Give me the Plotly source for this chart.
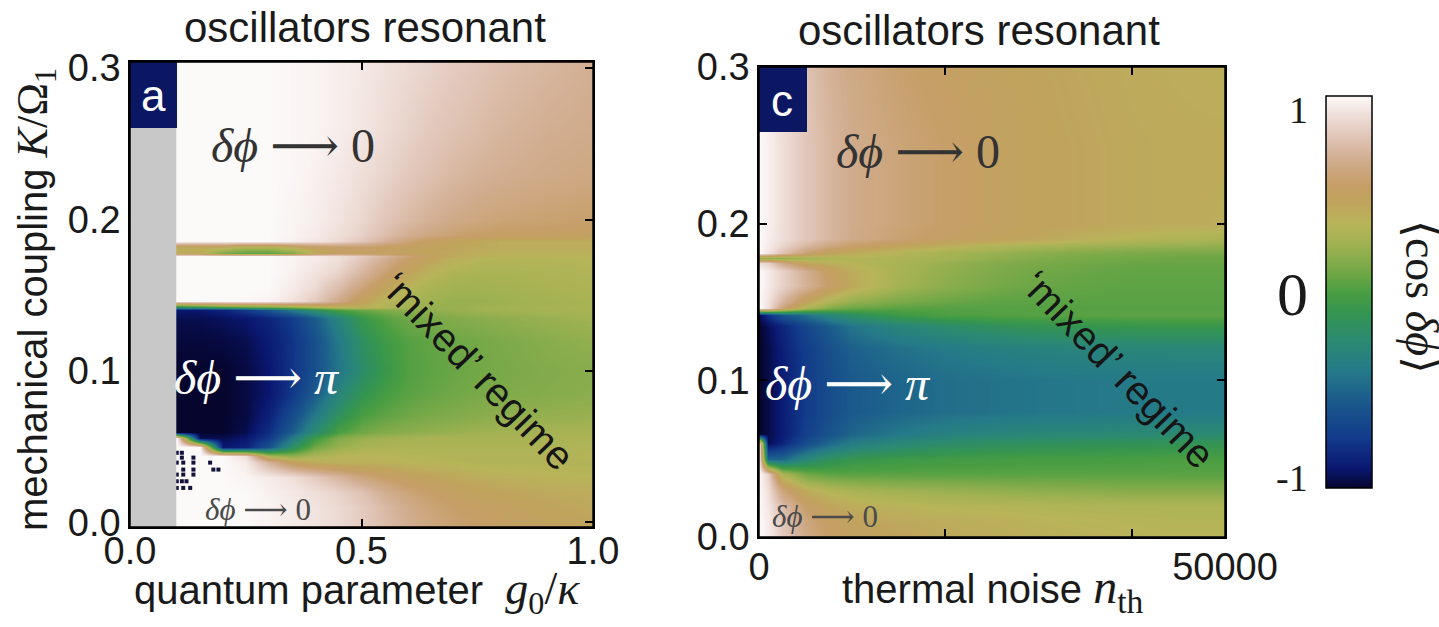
import plotly.graph_objects as go

W, H = 1439, 627

# ---------------- panel a : <cos dphi> vs g0/kappa and K/Omega1 ----------------
G_A = [0.10, 0.15, 0.20, 0.25, 0.30, 0.35, 0.40, 0.45, 0.50, 0.55, 0.60, 0.65, 0.70, 0.75, 0.80, 0.90, 1.00]
K_A = [0.000, 0.010, 0.020, 0.030, 0.040, 0.044, 0.050, 0.056, 0.060, 0.070, 0.085, 0.100,
       0.120, 0.135, 0.140, 0.142, 0.146, 0.155, 0.165, 0.174, 0.176, 0.178, 0.182, 0.186,
       0.190, 0.200, 0.230, 0.260, 0.300]
Z_A = [
    [1, 1, 1, 1, 0.98, 0.95, 0.92, 0.88, 0.82, 0.75, 0.68, 0.62, 0.58, 0.55, 0.52, 0.48, 0.45],
    [1, 1, 1, 1, 0.98, 0.95, 0.92, 0.88, 0.82, 0.74, 0.66, 0.60, 0.55, 0.52, 0.50, 0.45, 0.42],
    [1, 1, 1, 1, 0.97, 0.94, 0.90, 0.85, 0.78, 0.68, 0.60, 0.55, 0.50, 0.47, 0.45, 0.42, 0.40],
    [1, 1, 1, 0.98, 0.95, 0.90, 0.82, 0.72, 0.62, 0.55, 0.50, 0.46, 0.43, 0.40, 0.38, 0.36, 0.35],
    [1, 1, 1, 0.95, 0.70, 0.50, 0.40, 0.38, 0.37, 0.36, 0.35, 0.34, 0.33, 0.32, 0.32, 0.32, 0.32],
    [1, 1, 1, 0.90, 0.30, 0.20, 0.30, 0.35, 0.36, 0.35, 0.34, 0.33, 0.32, 0.32, 0.32, 0.32, 0.33],
    [1, 1, -0.90, -0.85, -0.60, -0.20, 0.10, 0.22, 0.28, 0.30, 0.30, 0.30, 0.30, 0.30, 0.30, 0.30, 0.32],
    [1, -0.95, -0.95, -0.90, -0.75, -0.40, -0.05, 0.15, 0.22, 0.25, 0.27, 0.28, 0.28, 0.28, 0.28, 0.28, 0.30],
    [-1, -1, -1, -0.95, -0.80, -0.55, -0.25, 0.00, 0.10, 0.15, 0.18, 0.20, 0.22, 0.24, 0.25, 0.27, 0.28],
    [-1, -1, -1, -0.97, -0.86, -0.65, -0.40, -0.15, 0.00, 0.06, 0.10, 0.13, 0.15, 0.17, 0.19, 0.21, 0.22],
    [-1, -1, -1, -0.97, -0.90, -0.76, -0.55, -0.30, -0.12, -0.02, 0.04, 0.07, 0.10, 0.12, 0.14, 0.16, 0.18],
    [-1, -1, -1, -0.97, -0.90, -0.78, -0.62, -0.42, -0.22, -0.08, 0.02, 0.05, 0.08, 0.10, 0.12, 0.15, 0.17],
    [-0.98, -0.98, -0.97, -0.95, -0.88, -0.78, -0.62, -0.40, -0.18, -0.05, 0.03, 0.06, 0.09, 0.11, 0.13, 0.17, 0.20],
    [-0.95, -0.95, -0.93, -0.90, -0.84, -0.74, -0.55, -0.30, -0.08, 0.03, 0.10, 0.13, 0.15, 0.17, 0.19, 0.22, 0.25],
    [-0.90, -0.90, -0.85, -0.75, -0.60, -0.40, -0.20, 0.00, 0.08, 0.14, 0.18, 0.20, 0.22, 0.24, 0.25, 0.27, 0.28],
    [-0.20, -0.10, 0.00, 0.05, 0.10, 0.20, 0.30, 0.35, 0.38, 0.32, 0.26, 0.22, 0.22, 0.24, 0.25, 0.27, 0.28],
    [1, 1, 1, 1, 0.98, 0.92, 0.82, 0.65, 0.48, 0.35, 0.28, 0.24, 0.22, 0.22, 0.23, 0.26, 0.28],
    [1, 1, 1, 1, 1, 0.95, 0.88, 0.75, 0.60, 0.45, 0.35, 0.28, 0.25, 0.25, 0.26, 0.28, 0.30],
    [1, 1, 1, 1, 1, 0.97, 0.92, 0.85, 0.72, 0.58, 0.45, 0.36, 0.30, 0.28, 0.28, 0.30, 0.32],
    [1, 1, 1, 1, 1, 0.98, 0.95, 0.90, 0.80, 0.68, 0.55, 0.45, 0.38, 0.34, 0.33, 0.33, 0.34],
    [1, 1, 1, 1, 1, 0.98, 0.95, 0.90, 0.82, 0.72, 0.60, 0.50, 0.42, 0.38, 0.36, 0.36, 0.36],
    [0.40, 0.40, 0.15, 0.05, 0.05, 0.15, 0.40, 0.50, 0.50, 0.50, 0.48, 0.45, 0.42, 0.40, 0.38, 0.37, 0.37],
    [0.40, 0.40, 0.40, 0.30, 0.30, 0.40, 0.50, 0.55, 0.55, 0.52, 0.50, 0.47, 0.45, 0.42, 0.40, 0.40, 0.40],
    [1, 1, 1, 1, 1, 0.97, 0.93, 0.88, 0.80, 0.70, 0.60, 0.52, 0.46, 0.42, 0.40, 0.40, 0.40],
    [1, 1, 1, 1, 1, 0.98, 0.95, 0.90, 0.84, 0.76, 0.68, 0.62, 0.58, 0.55, 0.53, 0.52, 0.50],
    [1, 1, 1, 1, 1, 0.98, 0.96, 0.92, 0.87, 0.80, 0.74, 0.69, 0.65, 0.62, 0.60, 0.58, 0.56],
    [1, 1, 1, 1, 1, 0.99, 0.97, 0.94, 0.90, 0.86, 0.81, 0.77, 0.73, 0.70, 0.68, 0.65, 0.63],
    [1, 1, 1, 1, 1, 0.99, 0.98, 0.96, 0.93, 0.89, 0.85, 0.81, 0.78, 0.75, 0.72, 0.68, 0.66],
    [1, 1, 1, 1, 1, 0.99, 0.98, 0.96, 0.94, 0.91, 0.88, 0.85, 0.82, 0.79, 0.76, 0.72, 0.68],
]
# isolated dark cells in the lower-left corner of panel a
DOTS_A_G = [0.101, 0.112, 0.112, 0.137, 0.101, 0.115, 0.137, 0.173, 0.115, 0.137, 0.180,
            0.191, 0.101, 0.115, 0.137, 0.101, 0.112, 0.122, 0.101, 0.115, 0.130]
DOTS_A_K = [0.046, 0.046, 0.0428, 0.0428, 0.0395, 0.0395, 0.0395, 0.0395, 0.0349, 0.0349, 0.0349,
            0.0349, 0.0316, 0.0316, 0.0316, 0.0272, 0.0272, 0.0272, 0.0228, 0.0228, 0.0228]

# ---------------- panel c : <cos dphi> vs n_th and K/Omega1 ----------------
N_C = [0, 1000, 2500, 5000, 7500, 10000, 15000, 20000, 25000, 30000, 35000, 40000, 45000, 50000]
K_C = [0.000, 0.010, 0.020, 0.030, 0.040, 0.050, 0.060, 0.066, 0.080, 0.100, 0.120, 0.135,
       0.142, 0.146, 0.150, 0.160, 0.170, 0.175, 0.178, 0.181, 0.186, 0.190, 0.200, 0.250, 0.300]
Z_C = [
    [1, 0.95, 0.82, 0.65, 0.55, 0.50, 0.45, 0.42, 0.40, 0.38, 0.37, 0.36, 0.35, 0.35],
    [1, 0.95, 0.80, 0.62, 0.52, 0.47, 0.42, 0.40, 0.38, 0.36, 0.35, 0.34, 0.33, 0.33],
    [1, 0.93, 0.75, 0.55, 0.45, 0.40, 0.36, 0.34, 0.33, 0.32, 0.31, 0.30, 0.30, 0.30],
    [1, 0.90, 0.60, 0.40, 0.32, 0.28, 0.24, 0.22, 0.20, 0.18, 0.17, 0.16, 0.16, 0.16],
    [1, 0.85, 0.30, 0.10, 0.05, 0.04, 0.04, 0.04, 0.04, 0.04, 0.04, 0.04, 0.04, 0.04],
    [1, -0.50, -0.50, -0.28, -0.16, -0.10, -0.06, -0.04, -0.03, -0.02, -0.02, -0.01, 0.00, 0.00],
    [1, -0.95, -0.85, -0.65, -0.50, -0.38, -0.28, -0.22, -0.18, -0.16, -0.15, -0.14, -0.13, -0.12],
    [-1, -0.96, -0.88, -0.72, -0.60, -0.50, -0.40, -0.34, -0.30, -0.28, -0.27, -0.26, -0.25, -0.25],
    [-1, -0.96, -0.88, -0.74, -0.64, -0.56, -0.50, -0.46, -0.44, -0.42, -0.41, -0.40, -0.40, -0.40],
    [-1, -0.96, -0.88, -0.74, -0.64, -0.56, -0.50, -0.46, -0.44, -0.42, -0.41, -0.40, -0.40, -0.40],
    [-1, -0.96, -0.87, -0.73, -0.62, -0.53, -0.45, -0.40, -0.36, -0.33, -0.31, -0.30, -0.29, -0.29],
    [-1, -0.94, -0.84, -0.68, -0.55, -0.42, -0.30, -0.22, -0.16, -0.12, -0.10, -0.09, -0.08, -0.08],
    [-0.95, -0.80, -0.60, -0.45, -0.30, -0.18, -0.06, 0.00, 0.02, 0.03, 0.04, 0.05, 0.05, 0.05],
    [1, 0.90, 0.60, 0.30, 0.15, 0.08, 0.04, 0.03, 0.03, 0.03, 0.03, 0.03, 0.03, 0.03],
    [1, 0.92, 0.72, 0.45, 0.30, 0.20, 0.12, 0.08, 0.05, 0.04, 0.04, 0.04, 0.04, 0.04],
    [1, 0.95, 0.85, 0.70, 0.55, 0.42, 0.26, 0.18, 0.12, 0.08, 0.06, 0.05, 0.05, 0.05],
    [1, 0.95, 0.85, 0.68, 0.52, 0.40, 0.28, 0.20, 0.14, 0.10, 0.08, 0.06, 0.06, 0.06],
    [0.90, 0.85, 0.65, 0.45, 0.38, 0.34, 0.28, 0.22, 0.16, 0.12, 0.10, 0.08, 0.08, 0.08],
    [0.20, 0.20, 0.20, 0.25, 0.30, 0.32, 0.30, 0.26, 0.20, 0.15, 0.12, 0.10, 0.09, 0.09],
    [1, 0.93, 0.78, 0.58, 0.46, 0.40, 0.33, 0.27, 0.22, 0.18, 0.15, 0.13, 0.12, 0.12],
    [1, 0.95, 0.86, 0.72, 0.62, 0.55, 0.45, 0.38, 0.32, 0.27, 0.24, 0.22, 0.21, 0.20],
    [1, 0.96, 0.90, 0.80, 0.72, 0.65, 0.58, 0.52, 0.47, 0.43, 0.38, 0.33, 0.30, 0.28],
    [1, 0.97, 0.90, 0.80, 0.72, 0.66, 0.60, 0.55, 0.50, 0.46, 0.44, 0.42, 0.41, 0.40],
    [1, 0.97, 0.90, 0.80, 0.72, 0.66, 0.60, 0.55, 0.50, 0.46, 0.44, 0.42, 0.41, 0.41],
    [0.99, 0.95, 0.88, 0.78, 0.70, 0.64, 0.57, 0.52, 0.48, 0.45, 0.43, 0.41, 0.40, 0.39],
]

# ---------------- colour scale (value -> colour) ----------------
CB_VALUES = [-1.0, -0.9, -0.75, -0.55, -0.4, -0.25, -0.1, 0.0, 0.12, 0.25, 0.35, 0.45, 0.55, 0.68, 0.82, 0.93, 1.0]
CB_COLORS = ["#05052e", "#0a1770", "#123a8a", "#1b5b8c", "#257a88", "#2b8a72", "#35954f", "#4a9e42",
             "#79a948", "#a2b252", "#b8b45a", "#c0a45c", "#c69e68", "#d2ae92", "#e4cbc0", "#f3e6e2", "#fcf9f9"]
CB_TICKS = [1, 0, -1]
CB_TICKTEXT = ["1", "0", "-1"]

colorscale = [[(v + 1) / 2, c] for v, c in zip(CB_VALUES, CB_COLORS)]

SANS = "Liberation Sans, Arial, Helvetica, sans-serif"
SERIF = "Liberation Serif, Times New Roman, DejaVu Serif, serif"


def px(xp):
    return xp / W


def py(yp):
    return 1 - yp / H


fig = go.Figure()
fig.add_trace(go.Heatmap(x=G_A, y=K_A, z=Z_A, zmin=-1, zmax=1, colorscale=colorscale,
                         zsmooth="best", showscale=False, xaxis="x", yaxis="y", hoverinfo="skip"))
CB_TOP, CB_BOT = 96, 488
fig.add_trace(go.Heatmap(x=N_C, y=K_C, z=Z_C, zmin=-1, zmax=1, colorscale=colorscale,
                         zsmooth="best", showscale=True, xaxis="x2", yaxis="y2", hoverinfo="skip",
                         colorbar=dict(x=px(1326), xanchor="left", y=py((CB_TOP + CB_BOT) / 2),
                                       yanchor="middle", len=CB_BOT - CB_TOP, lenmode="pixels",
                                       thickness=46, thicknessmode="pixels", outlinewidth=1.5,
                                       outlinecolor="black", showticklabels=False, ticks="",
                                       xpad=0, ypad=0)))
fig.add_trace(go.Scatter(x=DOTS_A_G, y=DOTS_A_K, mode="markers", xaxis="x", yaxis="y",
                         marker=dict(symbol="square", size=4, color="#12123a", line=dict(width=0)),
                         hoverinfo="skip", showlegend=False))

axis_common = dict(showline=True, linecolor="black", linewidth=1.5, mirror="ticks", ticks="inside",
                   ticklen=8, tickwidth=1.5, tickcolor="black", showgrid=False, zeroline=False,
                   tickfont=dict(family=SANS, size=38, color="#1a1a1a"))

fig.update_layout(
    width=W, height=H, margin=dict(l=0, r=0, t=0, b=0, autoexpand=False),
    paper_bgcolor="white", plot_bgcolor="white", showlegend=False,
    xaxis=dict(domain=[px(130), px(593)], range=[0, 1], tickvals=[0, 0.5, 1.0],
               ticktext=["0.0", "0.5", "1.0"], anchor="y", ticklabelstandoff=-10, **axis_common),
    yaxis=dict(domain=[py(527), py(62)], range=[-0.003, 0.304], tickvals=[0, 0.1, 0.2, 0.3],
               ticktext=["0.0", "0.1", "0.2", "0.3"], anchor="x", **axis_common),
    xaxis2=dict(domain=[px(759), px(1225)], range=[0, 50000], tickvals=[0, 50000],
                ticktext=["0", "50000"], anchor="y2", ticklabelstandoff=-4,
                minor=dict(tickvals=[20000, 40000], ticks="inside", ticklen=8, tickwidth=1.5,
                           tickcolor="black", showgrid=False),
                **axis_common),
    yaxis2=dict(domain=[py(537), py(67)], range=[0, 0.3], tickvals=[0, 0.1, 0.2, 0.3],
                ticktext=["0.0", "0.1", "0.2", "0.3"], anchor="x2", **axis_common),
)

shapes = [
    # grey (no data) strip in panel a
    dict(type="rect", xref="x", yref="y domain", x0=0, x1=0.1, y0=0, y1=1,
         fillcolor="#c8c8c8", line=dict(width=0), layer="above"),
    # panel label boxes
    dict(type="rect", xref="x domain", yref="y domain", x0=0, x1=47 / 463, y0=(527 - 128) / 465, y1=1,
         fillcolor="#0c1764", line=dict(width=0), layer="above"),
    dict(type="rect", xref="x2 domain", yref="y2 domain", x0=0, x1=48 / 466, y0=(537 - 132) / 470, y1=1,
         fillcolor="#0c1764", line=dict(width=0), layer="above"),
    # frames
    dict(type="rect", xref="x domain", yref="y domain", x0=0, x1=1, y0=0, y1=1,
         line=dict(color="black", width=1.5), fillcolor="rgba(0,0,0,0)", layer="above"),
    dict(type="rect", xref="x2 domain", yref="y2 domain", x0=0, x1=1, y0=0, y1=1,
         line=dict(color="black", width=1.5), fillcolor="rgba(0,0,0,0)", layer="above"),
]

ann = []


def add(text, x, y, size, family, color="#1a1a1a", xref="paper", yref="paper", angle=0,
        xanchor="center", yanchor="middle"):
    ann.append(dict(text=text, x=x, y=y, xref=xref, yref=yref, showarrow=False, textangle=angle,
                    xanchor=xanchor, yanchor=yanchor, font=dict(family=family, size=size, color=color)))


ARROW = "⟶"
# titles
add("oscillators resonant", px(365), py(27), 42, SANS)
add("oscillators resonant", px(979), py(31), 42, SANS)
# axis titles
add("mechanical coupling <span style='font-family:Liberation Serif;font-size:44px'><i>K</i>/Ω<sub>1</sub></span>",
    px(35), py(300), 40, SANS, angle=-90)
add("quantum parameter  <span style='font-family:Liberation Serif;font-size:46px'><i>g</i><sub>0</sub>/<i>κ</i></span>",
    px(357), py(592), 40, SANS)
add("thermal noise <span style='font-family:Liberation Serif;font-size:48px'><i>n</i><sub>th</sub></span>",
    px(993), py(590), 40, SANS)
# panel letters
add("a", 0.05, (527 - 95) / 465, 44, SANS, color="white", xref="x", yref="y domain")
add("c", 2500, (537 - 100) / 470, 44, SANS, color="white", xref="x2", yref="y2 domain")
# region labels panel a
add(f"<i>δϕ</i> {ARROW} 0", 0.352, 0.249, 48, SERIF, color="#333333", xref="x", yref="y")
add(f"<i>δϕ</i> {ARROW} <i>π</i>", 0.274, 0.096, 48, SERIF, color="white", xref="x", yref="y")
add(f"<i>δϕ</i> {ARROW} 0", 0.276, 0.0086, 31, SERIF, color="#4a4a4a", xref="x", yref="y")
add("‘mixed’ regime", 0.752, 0.10, 40, SANS, color="#151515", xref="x", yref="y", angle=46)
# region labels panel c
add(f"<i>δϕ</i> {ARROW} 0", 17060, 0.246, 48, SERIF, color="#333333", xref="x2", yref="y2")
add(f"<i>δϕ</i> {ARROW} <i>π</i>", 9550, 0.098, 48, SERIF, color="white", xref="x2", yref="y2")
add(f"<i>δϕ</i> {ARROW} 0", 7080, 0.013, 31, SERIF, color="#4a4a4a", xref="x2", yref="y2")
add("‘mixed’ regime", 38520, 0.107, 40, SANS, color="#151515", xref="x2", yref="y2", angle=46)
# colour bar labels
cb_size = {"1": 38, "0": 62, "-1": 38}
cb_offset = {"1": 14, "0": 2, "-1": -10}
for v, t in zip(CB_TICKS, CB_TICKTEXT):
    ypix = (CB_TOP + CB_BOT) / 2 - v * (CB_BOT - CB_TOP) / 2 + cb_offset[t]
    add(t, px(1310), py(ypix), cb_size[t], SERIF, xanchor="right")
add("⟨cos <i>δϕ</i>⟩", px(1421), py(297), 46, SERIF, angle=90)

fig.update_layout(shapes=shapes, annotations=ann)

fig.write_html("out.html", config={"displayModeBar": False},
               post_script="document.body.style.margin='0';")
